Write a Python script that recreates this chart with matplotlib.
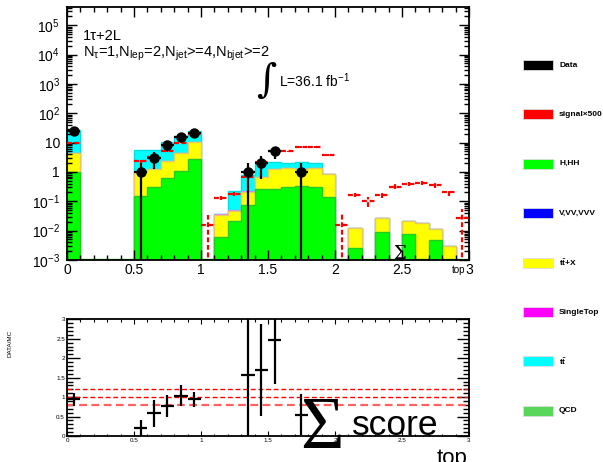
import matplotlib
matplotlib.use("Agg")
import matplotlib.pyplot as plt
from matplotlib.patches import Rectangle
from matplotlib.ticker import FixedLocator, MultipleLocator, LogLocator, NullFormatter
import numpy as np

plt.rcParams['font.family'] = ['Liberation Sans', 'DejaVu Sans']
plt.rcParams['mathtext.fontset'] = 'custom'
plt.rcParams['mathtext.rm'] = 'Liberation Sans'
plt.rcParams['mathtext.it'] = 'Liberation Sans:italic'
plt.rcParams['mathtext.bf'] = 'Liberation Sans:bold'

nan = np.nan
edges = np.round(np.arange(0, 3.01, 0.1), 2)
centers = edges[:-1] + 0.05

# stack components (events per bin)
hhh = [0.97, 0, 0, 0, 0, 0.155, 0.30, 0.62, 1.1, 2.7,
       0, 0.0062, 0.021, 0.076, 0.26, 0.27, 0.30, 0.34, 0.32, 0.145,
       0, 0.0026, 0, 0.0091, 0, 0.0076, 0, 0.0048, 0, 0]
vv = [0] * 30
ttx = [3.4, 0, 0, 0, 0, 0.85, 0.95, 1.7, 3.4, 8.0,
       0, 0.029, 0.027, 0.14, 0.42, 0.98, 1.07, 0.91, 1.05, 0.70,
       0, 0.010, 0, 0.017, 0, 0.0134, 0.0186, 0.0065, 0.0030, 0]
singletop = [0.05, 0, 0, 0, 0, 0.02, 0.02, 0.03, 0.05, 0.1,
             0, 0.001, 0.001, 0.005, 0.01, 0.01, 0.01, 0.01, 0.01, 0.01,
             0, 0, 0, 0, 0, 0, 0, 0, 0, 0]
ttbar = [23.6, 0, 0, 0, 0, 4.4, 4.4, 8.4, 12.5, 13.2,
         0, 0, 0.17, 0.59, 1.5, 1.0, 0.63, 0.89, 0.62, 0.02,
         0, 0, 0, 0, 0, 0, 0, 0, 0, 0]
qcd = [0] * 30

# signal x500 and its error
sig = [10, nan, nan, nan, nan, 2.3, 3.2, 5.1, 10, 19,
       0.016, 0.13, 0.18, 0.70, 2.2, 5.0, 5.0, 7.0, 7.0, 3.7,
       0.015, 0.168, 0.10, 0.168, 0.32, 0.40, 0.43, 0.35, 0.20, 0.026]
sig_err = [0.6, nan, nan, nan, nan, 0.3, 0.3, 0.4, 0.6, 1.0,
           0.018, 0.02, 0.025, 0.08, 0.15, 0.3, 0.3, 0.4, 0.4, 0.3,
           0.022, 0.03, 0.035, 0.035, 0.06, 0.06, 0.06, 0.06, 0.05, 0.027]

data = [25, 0, 0, 0, 0, 1, 3, 8, 16, 22,
        0, 0, 0, 1, 2, 5, 0, 1, 0, 0,
        0, 0, 0, 0, 0, 0, 0, 0, 0, 0]

ratio = [0.94, nan, nan, nan, nan, 0.21, 0.58, 0.78, 1.03, 0.94,
         nan, nan, nan, 1.57, 1.70, 2.46, nan, 0.55, nan, nan,
         nan, nan, nan, nan, nan, nan, nan, nan, nan, nan]
ratio_err = [0.17, nan, nan, nan, nan, 0.21, 0.34, 0.28, 0.27, 0.20,
             nan, nan, nan, 1.6, 1.19, 1.12, nan, 0.53, nan, nan,
             nan, nan, nan, nan, nan, nan, nan, nan, nan, nan]

xticklabels = ["0", "0.5", "1", "1.5", "2", "2.5", "3"]
leg_labels = ["Data", "signal\u00d7500", "H,HH", "V,VV,VVV", r"t$\mathbf{\bar{t}}$+X",
              "SingleTop", r"t$\mathbf{\bar{t}}$", "QCD"]
leg_colors = ["black", "#ff0000", "#00ff00", "#0000ff", "#ffff00",
              "#ff00ff", "#00ffff", "#5ad65a"]

W, H = 603, 462
fig = plt.figure(figsize=(W / 100, H / 100), dpi=100)
ax = fig.add_axes([67 / W, 1 - 260 / H, 402 / W, 253 / H])
rax = fig.add_axes([67 / W, 1 - 436 / H, 402 / W, 116.7 / H])

# stacked histogram, drawn from the top layer down
floor = 1e-4
layers = [(hhh, "#00ff00", "#22cc22"), (vv, "#0000ff", "#0000ff"),
          (ttx, "#ffff00", "#e8c860"), (singletop, "#ff00ff", "#cc88ff"),
          (ttbar, "#00ffff", "#00e0e0"), (qcd, "#5ad65a", "#5ad65a")]
cum = np.cumsum([np.array(l[0], float) for l in layers], axis=0)
for i in range(len(layers) - 1, -1, -1):
    if i > 0 and np.allclose(cum[i], cum[i - 1]):
        continue
    vals = cum[i]
    if i == 0:
        vals = np.where(vals > 0, vals, 1.07e-3)
    else:
        vals = np.where(vals > 0, vals, floor)
    ax.stairs(vals, edges, baseline=floor, fill=True,
              facecolor=layers[i][1], edgecolor=layers[i][2], linewidth=1)

# signal
sig = np.array(sig)
sig_err = np.array(sig_err)
lo = np.minimum(sig_err, sig - 1e-6)
eb = ax.errorbar(centers, sig, xerr=0.05, yerr=[lo, sig_err], fmt='none',
                 ecolor='red', elinewidth=1.6, zorder=5)
for c in eb[2]:
    c.set_linestyle((0, (2.2, 1.2)))

# data
data = np.array(data, float)
m = data > 0
dlo = np.minimum(np.sqrt(data[m]), data[m] - 1e-6)
ax.errorbar(centers[m], data[m], xerr=0.05, yerr=[dlo, np.sqrt(data[m])],
            fmt='o', color='black', markersize=6.5, elinewidth=1.6, zorder=6)

ax.set_yscale('log')
ax.set_xlim(0, 3)
ax.set_ylim(1e-3, 4.2e5)
ax.yaxis.set_major_locator(FixedLocator([10.0 ** k for k in range(-3, 6)]))
ax.set_yticklabels([r"$10^{-3}$", r"$10^{-2}$", r"$10^{-1}$", "1", "10",
                    r"$10^{2}$", r"$10^{3}$", r"$10^{4}$", r"$10^{5}$"])
ax.yaxis.set_minor_locator(LogLocator(base=10, subs=np.arange(2, 10), numticks=20))
ax.yaxis.set_minor_formatter(NullFormatter())
ax.set_xticks([0, 0.5, 1, 1.5, 2, 2.5, 3])
ax.set_xticklabels(xticklabels)
ax.xaxis.set_minor_locator(MultipleLocator(0.1))
ax.tick_params(which='both', direction='in', top=True, right=True, labelsize=10)
ax.tick_params(which='major', length=7, width=1)
ax.tick_params(which='minor', length=3.5, width=1)
ax.tick_params(axis='y', pad=5)
ax.tick_params(axis='x', pad=2)
for s in ax.spines.values():
    s.set_linewidth(1.3)

fig.text(83 / W, 1 - 40 / H, "1\u03c4+2L", fontsize=10.5)
fig.text(83 / W, 1 - 57 / H,
         r"N$_{\mathrm{\tau}}$=1,N$_{\rm lep}$=2,N$_{\rm jet}$>=4,N$_{\rm bjet}$>=2",
         fontsize=10.5)
fig.text(266 / W, 1 - 81 / H, "\u222b", family='DejaVu Serif', fontsize=28,
         ha='center', va='center')
fig.text(279 / W, 1 - 87 / H, r"L=36.1 fb$^{-1}$", fontsize=10)
fig.text(400 / W, 1 - 254 / H, "\u03a3", family='DejaVu Serif', fontsize=13,
         ha='center', va='center')
fig.text(452 / W, 1 - 273 / H, "top", fontsize=7)

# ratio panel
rax.axhline(1.2, color='red', ls=(0, (3.5, 2)), lw=1)
rax.axhline(1.0, color='red', ls=(0, (3.5, 2)), lw=1)
rax.axhline(0.8, color='#ff6060', ls=(0, (3.5, 2)), lw=1.6)
rax.errorbar(centers, ratio, xerr=0.05, yerr=ratio_err, fmt='none',
             ecolor='black', elinewidth=1.6)
rax.set_xlim(0, 3)
rax.set_ylim(0, 3)
rax.set_xticks([0, 0.5, 1, 1.5, 2, 2.5, 3])
rax.set_xticklabels(xticklabels)
rax.set_yticks([0, 0.5, 1, 1.5, 2, 2.5, 3])
rax.set_yticklabels(xticklabels)
rax.xaxis.set_minor_locator(MultipleLocator(0.1))
rax.yaxis.set_minor_locator(MultipleLocator(0.1))
rax.tick_params(which='both', direction='in', top=True, right=True, labelsize=4.5)
rax.tick_params(axis='x', which='major', length=3.5, width=0.8, pad=1.5)
rax.tick_params(axis='x', which='minor', length=1.8, width=0.8)
rax.tick_params(axis='y', which='major', length=9, width=1, pad=1.5)
rax.tick_params(axis='y', which='minor', length=4.5, width=1)
for s in rax.spines.values():
    s.set_linewidth(1.3)
fig.text(10 / W, 1 - 343 / H, "DATA/MC", fontsize=4.5, rotation=90,
         ha='center', va='center')

# x title drawn over the ratio panel
fig.text(322 / W, 1 - 430 / H, "\u03a3", family='Liberation Serif', fontsize=54,
         ha='center', va='center')
fig.text(352 / W, 1 - 435 / H, "score", fontsize=25.5, va='baseline')
fig.text(437 / W, 1 - 448 / H, "top", fontsize=16, va='top')

# legend on the right
for i, (lab, col) in enumerate(zip(leg_labels, leg_colors)):
    yc = 65 + i * 49.4
    fig.patches.append(Rectangle((523 / W, 1 - (yc + 5) / H), 30 / W, 10 / H,
                                 transform=fig.transFigure, facecolor=col,
                                 edgecolor='#dddddd', linewidth=0.6))
    fig.text(559 / W, 1 - yc / H, lab, fontsize=6, fontweight='bold',
             va='center')

fig.savefig("out.png", dpi=100)
